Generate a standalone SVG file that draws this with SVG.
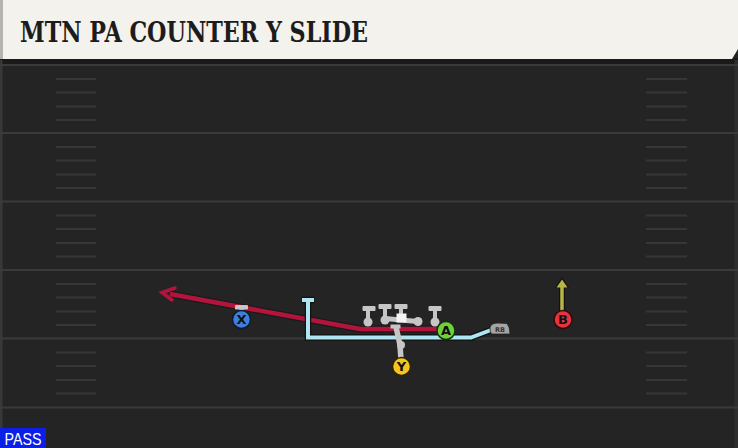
<svg xmlns="http://www.w3.org/2000/svg" width="738" height="448" viewBox="0 0 738 448">
<style>
.fl{stroke:#3a3a3a;stroke-width:2;fill:none}
.hm{stroke:#363636;stroke-width:2;fill:none}
.lbl{font-family:"DejaVu Sans","Liberation Sans",sans-serif;font-weight:bold;font-size:13px;fill:#111;text-anchor:middle}
.blk{fill:#c6c6c6}
.gl{stroke:#c6c6c6;stroke-width:5;fill:none;stroke-linecap:round}
</style>
<defs>
<g id="hash">
<line class="hm" x1="56" y1="0" x2="96" y2="0"/>
<line class="hm" x1="646" y1="0" x2="687" y2="0"/>
</g>
<g id="hashgrp">
<use href="#hash" y="14"/><use href="#hash" y="27.5"/><use href="#hash" y="41.5"/><use href="#hash" y="55"/>
</g>
</defs>
<rect width="738" height="448" fill="#242424"/>
<rect x="0" y="58" width="738" height="7" fill="#1a1a1a"/>
<rect x="0" y="60" width="2.5" height="388" fill="#383838"/>
<rect x="734.5" y="60" width="3.5" height="388" fill="#2e2e2e"/>
<g id="field">
<line class="fl" x1="0" y1="65" x2="738" y2="65"/>
<line class="fl" x1="0" y1="133" x2="738" y2="133"/>
<line class="fl" x1="0" y1="201.5" x2="738" y2="201.5"/>
<line class="fl" x1="0" y1="270" x2="738" y2="270"/>
<line class="fl" x1="0" y1="338.5" x2="738" y2="338.5"/>
<line class="fl" x1="0" y1="407.5" x2="738" y2="407.5"/>
<use href="#hashgrp" y="65"/>
<use href="#hashgrp" y="133"/>
<use href="#hashgrp" y="201.5"/>
<use href="#hashgrp" y="270"/>
<use href="#hashgrp" y="338.5"/>
</g>
<g id="header">
<path d="M0 0 H738 V49 L732 59 H0 Z" fill="#f4f2ec"/>
<rect x="0" y="0" width="3" height="59" fill="#b4b4b0"/>
<text x="20" y="42" font-family="'DejaVu Serif','Liberation Serif',serif" font-weight="bold" font-size="28" fill="#1c1c1c" textLength="348" lengthAdjust="spacingAndGlyphs">MTN PA COUNTER Y SLIDE</text>
</g>
<g id="connectors">
<path d="M440 329 L360 329 L170 294" stroke="#1a1a1a" stroke-width="7" fill="none" stroke-linejoin="round"/>
<path d="M440 329 L360 329 L170 294" stroke="#b2143c" stroke-width="4.5" fill="none" stroke-linejoin="round"/>
<path d="M175 288 L162 292.5 L172 300" stroke="#b2143c" stroke-width="3.5" fill="none" stroke-linejoin="miter" stroke-linecap="round"/>
<path d="M491 330 L471 337.5 L308 337.5 L308 300 M301.5 300 H314.5" stroke="#121212" stroke-width="6.5" fill="none" stroke-linejoin="miter"/>
<path d="M491 330 L471 337.5 L308 337.5 L308 300 M302 300 H314" stroke="#aee6f2" stroke-width="4" fill="none" stroke-linejoin="miter"/>
<path d="M562 312 V286" stroke="#121212" stroke-width="6" fill="none"/>
<polygon points="562,277 569,288 555,288" fill="#121212"/>
<path d="M562 312 V287" stroke="#b7b546" stroke-width="3.5" fill="none"/>
<polygon points="562,279.5 567.5,287.5 556.5,287.5" fill="#b7b546"/>
</g>
<g id="oline">
<path class="gl" d="M385 318.5 L401 320 L418 321.5"/>
<rect class="blk" x="362.5" y="306" width="13" height="5" rx="1"/>
<rect class="blk" x="366" y="306" width="4" height="15"/>
<circle class="blk" cx="368" cy="322" r="4.5"/>
<rect class="blk" x="378.5" y="304" width="13" height="5" rx="1"/>
<rect class="blk" x="383" y="304" width="4" height="15"/>
<circle class="blk" cx="385" cy="320" r="4.5"/>
<rect class="blk" x="394.5" y="304" width="13" height="5" rx="1"/>
<rect class="blk" x="399" y="304" width="4" height="12"/>
<rect x="396.5" y="313.5" width="10" height="9" fill="#f4f4f4"/>
<circle class="blk" cx="418" cy="321.5" r="4.5"/>
<rect class="blk" x="428.5" y="306" width="13" height="5" rx="1"/>
<rect class="blk" x="433" y="306" width="4" height="15"/>
<circle class="blk" cx="435" cy="322" r="4.5"/>
</g>
<g id="yblock">
<rect class="blk" x="390.5" y="324.5" width="10" height="4"/>
<path d="M396 327 L400 345 L401 360" stroke="#c6c6c6" stroke-width="5.5" fill="none"/>
<circle class="blk" cx="401" cy="345" r="4"/>
</g>
<g id="rb">
<path d="M490 327.5 Q491 323 498 323 L507 323.5 Q510 327 510 334 L491.5 334 Q489.5 331.5 490 327.5 Z" fill="#a4a4a4" stroke="#222" stroke-width="0.8"/>
<text x="500" y="331.5" font-family="'DejaVu Sans',sans-serif" font-size="6.5" font-weight="bold" fill="#333" text-anchor="middle">RB</text>
</g>
<g id="X">
<rect class="blk" x="235" y="305" width="13" height="4.5" rx="1"/>
<rect class="blk" x="239.5" y="305" width="4" height="7"/>
<circle cx="241.5" cy="319.5" r="9" fill="#3f7fdc" stroke="#101a30" stroke-width="1.5"/>
<text class="lbl" x="241.5" y="324">X</text>
</g>
<g id="A">
<circle cx="446" cy="330.5" r="9" fill="#6fd23a" stroke="#16300e" stroke-width="1.5"/>
<text class="lbl" x="446" y="335">A</text>
</g>
<g id="Y">
<circle cx="401.5" cy="366.5" r="9" fill="#f2c520" stroke="#302400" stroke-width="1.5"/>
<text class="lbl" x="401.5" y="371">Y</text>
</g>
<g id="B">
<circle cx="563" cy="319.5" r="9" fill="#e8333f" stroke="#300a0c" stroke-width="1.5"/>
<text class="lbl" x="563" y="324">B</text>
</g>
<g id="pass">
<rect x="0" y="428" width="46" height="20" fill="#0c1fe6"/>
<text x="4.5" y="445" font-family="'Liberation Sans',Arial,sans-serif" font-size="17" fill="#ffffff" textLength="37" lengthAdjust="spacingAndGlyphs">PASS</text>
</g>
</svg>
